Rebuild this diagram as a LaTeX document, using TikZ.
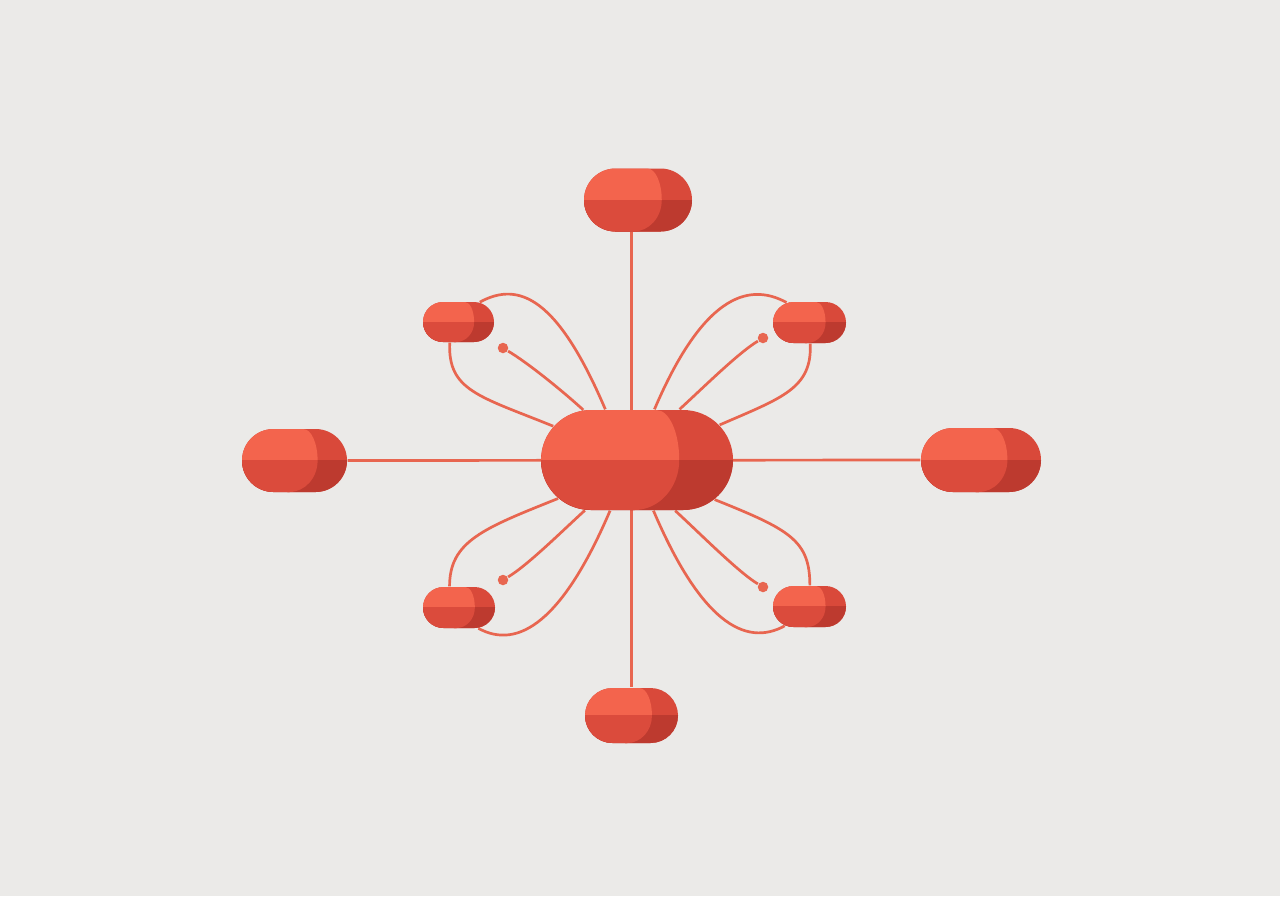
\documentclass[tikz,border=0pt]{standalone}
\usetikzlibrary{shapes.misc,backgrounds}

\definecolor{bgcol}{HTML}{EBEAE8}
\definecolor{wire}{HTML}{E86650}
\definecolor{pillA}{HTML}{F3644D}
\definecolor{pillB}{HTML}{D9493A}
\definecolor{pillC}{HTML}{DB4B3C}
\definecolor{pillD}{HTML}{BD3A2F}

\tikzset{
    pillnode/.style={rounded rectangle, inner sep=0pt, draw=none},
    wireline/.style={wire, line width=0.27mm},
    dot/.style={circle, fill=wire, inner sep=0pt, minimum size=1.05mm},
}

% name, x, y, width, height (in px)
\newcommand{\pill}[5]{%
    \pgfmathsetmacro{\pilrad}{#5/2}
    \pgfmathsetmacro{\pilrr}{#5*0.0499}
    \pgfmathsetmacro{\pilat}{#5*0.0225}
    \pgfmathsetmacro{\pilab}{#5*0.045}
    \pgfmathsetmacro{\pilleft}{#2-#4/2}
    \pgfmathsetmacro{\pilright}{#2+#4/2}
    \pgfmathsetmacro{\pilmid}{#2-#4/2+0.72*#4}
    \pgfmathsetmacro{\pilw}{#4*0.1}
    \pgfmathsetmacro{\pilh}{#5*0.1}
    \def\pillight{(\pilmid,#3) arc[start angle=0, end angle=90, x radius=\pilat mm, y radius=\pilrr mm]
        -- (\pilleft+\pilrad,#3-\pilrad) arc[start angle=90, end angle=270, radius=\pilrr mm]
        -- (\pilmid-\pilab*10,#3+\pilrad) arc[start angle=270, end angle=360, x radius=\pilab mm, y radius=\pilrr mm] -- cycle}
    \fill[pillB, rounded corners=\pilrr mm] (\pilleft,#3-\pilrad) rectangle (\pilright,#3+\pilrad); % dark end
    \fill[pillA] \pillight; % light part
    \begin{scope}
        \clip (\pilleft-1,#3) rectangle (\pilright+1,#3+\pilrad+1); % lower half
        \fill[pillD, rounded corners=\pilrr mm] (\pilleft,#3-\pilrad) rectangle (\pilright,#3+\pilrad);
        \fill[pillC] \pillight;
    \end{scope}
    \node[pillnode, minimum width=\pilw mm, minimum height=\pilh mm] (#1) at (#2,#3) {};
}

\begin{document}
\begin{tikzpicture}[x=0.1mm, y=-0.1mm]
    \begin{pgfonlayer}{background}
        \fill[bgcol] (0,0) rectangle (1280,896);
    \end{pgfonlayer}
    \useasboundingbox (0,0) rectangle (1280,896);

    \pill{hub}{637}{460}{192}{100}
    \pill{top}{638}{200}{108}{63}
    \pill{bot}{631.5}{715.5}{93}{55}
    \pill{lft}{294.5}{460.5}{105}{63}
    \pill{rgt}{981}{460}{120}{64}
    \pill{tl}{458.5}{322}{71}{40}
    \pill{tr}{809.5}{322.5}{73}{41}
    \pill{bl}{459}{607.5}{72}{41}
    \pill{br}{809.5}{606.5}{73}{41}

    \node[dot] (dtl) at (503,348) {};
    \node[dot] (dtr) at (763,338) {};
    \node[dot] (dbl) at (503,580) {};
    \node[dot] (dbr) at (763,587) {};

    \begin{pgfonlayer}{background}
        \draw[wireline] (top.south -| bot.north) -- (bot.north); % vertical
        \draw[wireline] (lft.east) -- (rgt.west); % horizontal

        \draw[wireline] (tl.43) .. controls +(40,-22) and +(-47,-110) .. (hub.122);
        \draw[wireline] (tl.247) .. controls +(-2,48) and +(-74,-30) .. (hub.158);
        \draw[wireline] (dtl) .. controls +(25,15) and +(-22,-20) .. (hub.137);

        \draw[wireline] (tr.139) .. controls +(-40,-22) and +(47,-110) .. (hub.71);
        \draw[wireline] (tr.272) .. controls +(2,45) and +(62,-27) .. (hub.23);
        \draw[wireline] (dtr) .. controls +(-25,15) and +(22,-20) .. (hub.50);

        \draw[wireline] (bl.114) .. controls +(0,-45) and +(-75,30) .. (hub.206);
        \draw[wireline] (dbl) .. controls +(25,-15) and +(-22,20) .. (hub.224);
        \draw[wireline] (bl.313) .. controls +(40,22) and +(-47,110) .. (hub.242);

        \draw[wireline] (br.89) .. controls +(0,-45) and +(75,30) .. (hub.333);
        \draw[wireline] (dbr) .. controls +(-25,-15) and +(22,20) .. (hub.307);
        \draw[wireline] (br.218) .. controls +(-40,22) and +(47,110) .. (hub.288);
    \end{pgfonlayer}
\end{tikzpicture}
\end{document}
